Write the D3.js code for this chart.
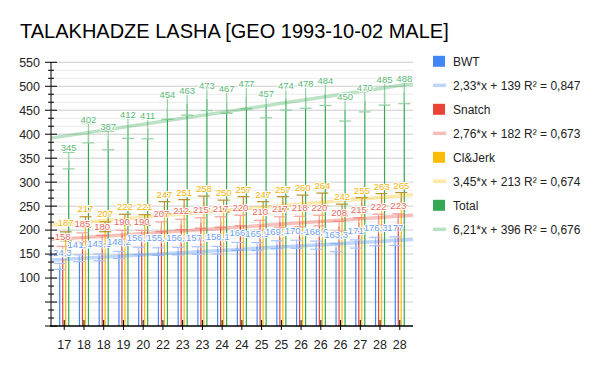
<!DOCTYPE html>
<html>
<head>
<meta charset="utf-8">
<script src="https://cdn.jsdelivr.net/npm/d3@7"></script>
<style>
  body { margin: 0; background: #fff; }
  svg { display: block; font-family: Arial, "Liberation Sans", sans-serif; }
</style>
</head>
<body>
<svg id="chart"></svg>
<script>
// Data
const ages = ['17', '18', '18', '19', '20', '22', '23', '23', '24', '24', '25', '25', '26', '26', '26', '27', '28', '28'];
const bwt = [124.3, 141.4, 143.1, 148.2, 156.5, 155.4, 156.2, 157.3, 158.1, 166, 165.5, 169.3, 170.4, 168.6, 163.3, 171, 176.3, 177];
const snatch = [158, 185, 180, 190, 190, 207, 212, 215, 217, 220, 210, 217, 218, 220, 208, 215, 222, 223];
const cleanJerk = [187, 217, 207, 222, 221, 247, 251, 258, 250, 257, 247, 257, 260, 264, 242, 255, 263, 265];
const total = [345, 402, 387, 412, 411, 454, 463, 473, 467, 477, 457, 474, 478, 484, 450, 470, 485, 488];

const seriesNames = ['BWT', 'Snatch', 'Cl&Jerk', 'Total'];
const seriesValues = [bwt, snatch, cleanJerk, total];

// Trendlines as printed in the legend
const trendSlopes = [2.33, 2.76, 3.45, 6.21];
const trendIntercepts = [139, 182, 213, 396];
const trendR2 = [0.847, 0.673, 0.674, 0.676];

const yTicks = [100, 150, 200, 250, 300, 350, 400, 450, 500, 550];

const colors = ['#4285f4', '#ea4335', '#fbbc04', '#34a853'];
const errColors = ['#a9c4f5', '#f2a49d', '#b8922a', '#91d0a0'];
const labelColors = ['#6d9ef0', '#e8675c', '#f5b400', '#5cb874'];
const errPct = 0.05;

function drawChart() {
    const width = 600;
    const height = 371;
    const plot = { left: 51, right: 413, top: 62.3, bottom: 326 };

    const svg = d3.select('#chart')
        .attr('width', width)
        .attr('height', height);

    const x = d3.scaleBand()
        .domain(d3.range(ages.length))
        .range([plot.left, plot.right])
        .paddingInner(0)
        .paddingOuter(0.17);

    const xs = d3.scaleBand()
        .domain(d3.range(seriesNames.length))
        .range([-6, 6]);

    const y = d3.scaleLinear()
        .domain([0, 550])
        .range([plot.bottom, plot.top]);

    const cx = i => x(i) + x.bandwidth() / 2;

    // Title
    svg.append('text')
        .attr('x', 20)
        .attr('y', 38)
        .style('font-size', '20px')
        .style('fill', '#000')
        .text('TALAKHADZE LASHA [GEO 1993-10-02 MALE]');

    // Gridlines: major every 50, minor at thirds
    const minor = d3.range(0, 550, 50 / 3).filter(v => Math.abs(v % 50) > 1 && Math.abs(v % 50 - 50) > 1);
    const major = d3.range(0, 551, 50);

    svg.append('g').selectAll('line')
        .data(minor)
        .join('line')
        .attr('x1', plot.left).attr('x2', plot.right)
        .attr('y1', d => y(d)).attr('y2', d => y(d))
        .attr('stroke', '#ebebeb');

    svg.append('g').selectAll('line')
        .data(major.filter(v => v > 0))
        .join('line')
        .attr('x1', plot.left).attr('x2', plot.right)
        .attr('y1', d => y(d)).attr('y2', d => y(d))
        .attr('stroke', '#cccccc');

    // Bars
    seriesValues.forEach((vals, s) => {
        svg.append('g').selectAll('rect')
            .data(vals)
            .join('rect')
            .attr('x', (d, i) => cx(i) + xs(s) + xs.bandwidth() / 2 - 0.6)
            .attr('width', 1.2)
            .attr('y', d => y(d))
            .attr('height', d => y(0) - y(d))
            .attr('fill', colors[s]);
    });

    // Error bars (+/- 5%)
    seriesValues.forEach((vals, s) => {
        const g = svg.append('g')
            .attr('stroke', errColors[s])
            .attr('stroke-width', 1.2);
        vals.forEach((d, i) => {
            const px = cx(i) + xs(s) + xs.bandwidth() / 2;
            const lo = y(d * (1 - errPct));
            const hi = y(d * (1 + errPct));
            g.append('line').attr('x1', px).attr('x2', px).attr('y1', lo).attr('y2', hi);
            g.append('line').attr('x1', px - 6).attr('x2', px + 6).attr('y1', lo).attr('y2', lo);
            g.append('line').attr('x1', px - 6).attr('x2', px + 6).attr('y1', hi).attr('y2', hi);
        });
    });

    // Trendlines, index based (first category = 0)
    const step = x.step();
    const idxAt = px => (px - cx(0)) / step;
    trendSlopes.forEach((m, s) => {
        const b = trendIntercepts[s];
        svg.append('line')
            .attr('x1', plot.left)
            .attr('x2', plot.right)
            .attr('y1', y(b + m * idxAt(plot.left)))
            .attr('y2', y(b + m * idxAt(plot.right)))
            .attr('stroke', colors[s])
            .attr('stroke-opacity', 0.33)
            .attr('stroke-width', 3.5);
    });

    // Value labels, a fixed distance above each bar
    const fmt = v => String(v).replace('.', ',');
    seriesValues.forEach((vals, s) => {
        svg.append('g').selectAll('text')
            .data(vals)
            .join('text')
            .attr('x', (d, i) => cx(i) + xs(s) + xs.bandwidth() / 2)
            .attr('y', d => y(d) - 10)
            .attr('text-anchor', 'middle')
            .style('font-size', '9.5px')
            .style('fill', labelColors[s])
            .style('stroke', '#fff')
            .style('stroke-width', 2)
            .style('paint-order', 'stroke')
            .text(d => fmt(d));
    });

    // Y axis
    const yAxis = svg.append('g');
    yAxis.append('line')
        .attr('x1', plot.left).attr('x2', plot.left)
        .attr('y1', plot.top).attr('y2', plot.bottom)
        .attr('stroke', '#000');
    yAxis.selectAll('.minor')
        .data(minor)
        .join('line')
        .attr('x1', plot.left - 3).attr('x2', plot.left + 3)
        .attr('y1', d => y(d)).attr('y2', d => y(d))
        .attr('stroke', '#000');
    yAxis.selectAll('.major')
        .data(major)
        .join('line')
        .attr('x1', plot.left - 6).attr('x2', plot.left + 6)
        .attr('y1', d => y(d)).attr('y2', d => y(d))
        .attr('stroke', '#000');
    yAxis.selectAll('text')
        .data(yTicks)
        .join('text')
        .attr('x', plot.left - 11)
        .attr('y', d => y(d))
        .attr('dy', '0.35em')
        .attr('text-anchor', 'end')
        .style('font-size', '12.5px')
        .style('fill', '#222')
        .text(d => d);

    // X axis
    const xAxis = svg.append('g');
    xAxis.append('line')
        .attr('x1', plot.left - 1).attr('x2', plot.right)
        .attr('y1', plot.bottom).attr('y2', plot.bottom)
        .attr('stroke', '#000')
        .attr('stroke-width', 1.5);
    xAxis.selectAll('.tick')
        .data(ages)
        .join('line')
        .attr('x1', (d, i) => cx(i)).attr('x2', (d, i) => cx(i))
        .attr('y1', plot.bottom - 6).attr('y2', plot.bottom + 4)
        .attr('stroke', '#000');
    xAxis.selectAll('text')
        .data(ages)
        .join('text')
        .attr('x', (d, i) => cx(i))
        .attr('y', 349)
        .attr('text-anchor', 'middle')
        .style('font-size', '12.5px')
        .style('fill', '#222')
        .text(d => d);

    // Legend
    const legend = svg.append('g').attr('transform', 'translate(433, 61.3)');
    const num = (v, p) => v.toFixed(p).replace('.', ',');
    seriesNames.forEach((name, s) => {
        const g1 = legend.append('g').attr('transform', `translate(0, ${s * 48})`);
        g1.append('rect')
            .attr('x', 0).attr('y', -5.5)
            .attr('width', 12).attr('height', 11)
            .attr('fill', colors[s]);
        g1.append('text')
            .attr('x', 20).attr('dy', '0.35em')
            .style('font-size', '12px')
            .style('fill', '#222')
            .text(name);

        const g2 = legend.append('g').attr('transform', `translate(0, ${s * 48 + 24})`);
        g2.append('line')
            .attr('x1', 0).attr('x2', 13)
            .attr('stroke', colors[s])
            .attr('stroke-opacity', 0.35)
            .attr('stroke-width', 3.5);
        g2.append('text')
            .attr('x', 20).attr('dy', '0.35em')
            .style('font-size', '12px')
            .style('fill', '#222')
            .text(`${num(trendSlopes[s], 2)}*x + ${trendIntercepts[s]} R² = ${num(trendR2[s], 3)}`);
    });
}

document.addEventListener('DOMContentLoaded', drawChart);
</script>
</body>
</html>
